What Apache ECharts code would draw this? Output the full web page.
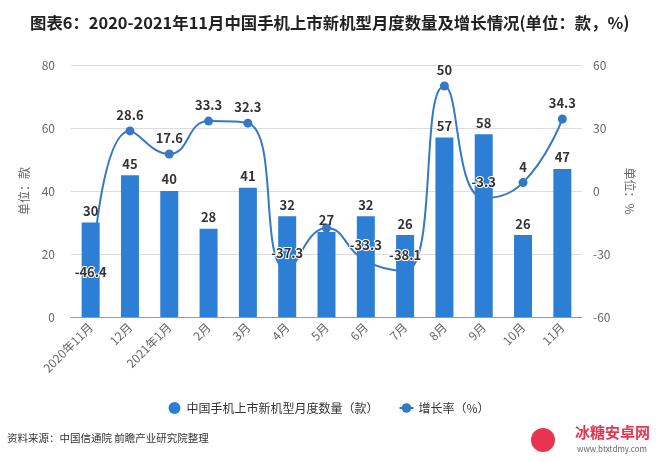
<!DOCTYPE html>
<html><head><meta charset="utf-8">
<script src="https://cdn.jsdelivr.net/npm/echarts@6/dist/echarts.min.js"></script>
<style>html,body{margin:0;padding:0;background:#fff}#c{width:658px;height:462px}</style>
</head><body><div id="c"></div>
<script>
const categories = ['2020年11月','12月','2021年1月','2月','3月','4月','5月','6月','7月','8月','9月','10月','11月'];
const counts = [30,45,40,28,41,32,27,32,26,57,58,26,47];
const growth = [-46.4,28.6,17.6,33.3,32.3,-37.3,-17.6,-33.3,-38.1,50,-3.3,4,34.3];
const hiddenGrowthLabels = [6];
const leftTicks = {min:0,max:80,interval:20};
const rightTicks = {min:-60,max:60,interval:30};
const FONT = '"Noto Sans CJK SC","Noto Sans",sans-serif';
const barColor = '#2d7fd6';
const lineColor = '#3579c6';

const chart = echarts.init(document.getElementById('c'));
chart.setOption({
  animation:false,
  textStyle:{fontFamily:FONT},
  title:{text:'图表6：2020-2021年11月中国手机上市新机型月度数量及增长情况(单位：款，%)',left:25,top:10,
    textStyle:{fontSize:16.4,fontWeight:'bold',color:'#222',fontFamily:FONT}},
  grid:{left:71,right:76,top:65,bottom:145},
  legend:{top:397,left:'center',itemGap:20,itemWidth:14,itemHeight:12,
    data:[{name:'中国手机上市新机型月度数量（款）',icon:'circle'},{name:'增长率（%）'}],
    textStyle:{fontSize:12,color:'#333'}},
  xAxis:{type:'category',data:categories,
    axisLine:{lineStyle:{color:'#999'}},axisTick:{show:false},
    axisLabel:{rotate:45,fontSize:12,color:'#666',margin:8,interval:0}},
  yAxis:[
    {type:'value',...leftTicks,name:'单位：款',nameLocation:'middle',nameGap:37,
     nameTextStyle:{fontSize:12,color:'#666'},
     axisLine:{show:false},axisTick:{show:false},
     axisLabel:{fontSize:12,color:'#666',margin:16},
     splitLine:{lineStyle:{color:'#ddd'}}},
    {type:'value',...rightTicks,
     axisLine:{show:false},axisTick:{show:false},
     axisLabel:{fontSize:12,color:'#666',margin:11},
     splitLine:{show:false}}
  ],
  series:[
    {name:'增长率（%）',type:'line',yAxisIndex:1,data:growth,smooth:0.5,z:2,
     symbol:'circle',symbolSize:9,showAllSymbol:true,
     lineStyle:{color:lineColor,width:2},itemStyle:{color:lineColor},label:{show:false}},
    {name:'中国手机上市新机型月度数量（款）',type:'bar',data:counts,barWidth:18,z:3,
     itemStyle:{color:barColor},
     label:{show:true,position:'top',distance:5,fontSize:13,fontWeight:'bold',color:'#333'}},
    {name:'增长率标签',type:'line',yAxisIndex:1,data:growth,z:4,
     symbol:'circle',symbolSize:9,showAllSymbol:true,silent:true,
     lineStyle:{width:0,color:'rgba(0,0,0,0)'},itemStyle:{color:'rgba(0,0,0,0)'},
     label:{show:true,position:'top',distance:5,fontSize:13,fontWeight:'bold',color:'#333',
       textBorderColor:'#fff',textBorderWidth:2,
       formatter:p=>hiddenGrowthLabels.includes(p.dataIndex)?'':String(p.value)}}
  ],
  graphic:[
    {type:'text',x:630,y:191,rotation:-Math.PI/2,
     style:{text:'单位：%',fontSize:12,fill:'#666',fontFamily:FONT,align:'center',verticalAlign:'middle'}},
    {type:'text',left:7,top:433,style:{text:'资料来源：中国信通院 前瞻产业研究院整理',fontSize:10.5,fill:'#333',fontFamily:FONT}},
    {type:'circle',shape:{cx:543,cy:440,r:12},style:{fill:'#e8344e'}},
    {type:'text',left:575,top:425,style:{text:'冰糖安卓网',fontSize:15,fontWeight:'bold',fill:'#e8344e',fontFamily:FONT}},
    {type:'text',left:577,top:445,style:{text:'www.btxtdmy.com',fontSize:8,fill:'#666',fontFamily:FONT}}
  ]
});
</script></body></html>
